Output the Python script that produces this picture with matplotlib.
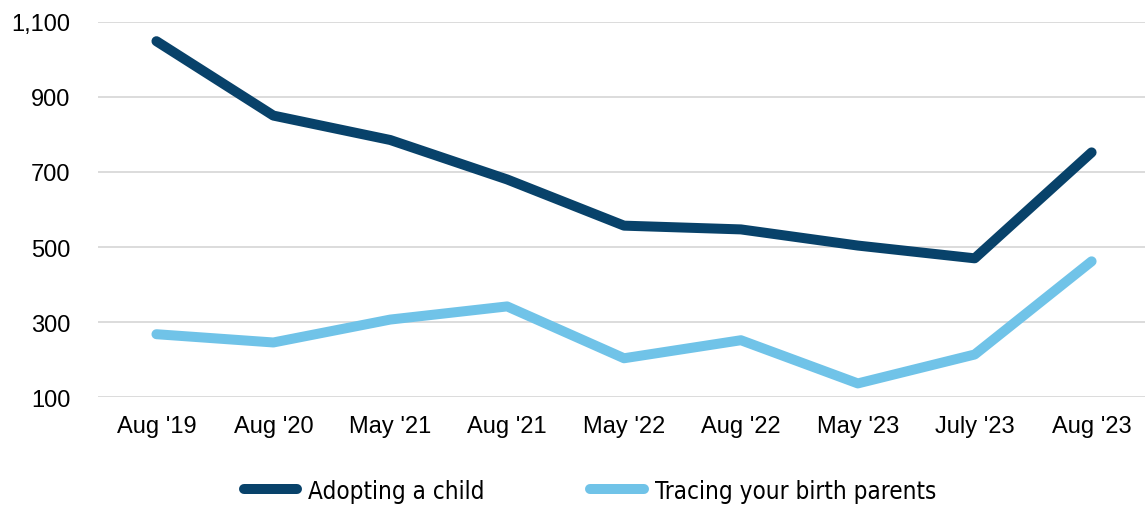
import matplotlib.pyplot as plt
from matplotlib.font_manager import FontProperties

periodos = ["Aug '19", "Aug '20", "May '21", "Aug '21", "May '22", "Aug '22", "May '23", "July '23", "Aug '23"]
adocao = [1048, 850, 785, 680, 557, 547, 504, 470, 752]
origem = [268, 246, 307, 342, 204, 252, 137, 214, 462]

plt.rcParams['font.family'] = ['Liberation Sans', 'DejaVu Sans']

fig = plt.figure(figsize=(11.45, 5.06), dpi=100)
ax = fig.add_axes([0.0856, 0.2128, 0.9188, 0.7424])

x = list(range(len(periodos)))
ax.plot(x, adocao, color='#08426A', linewidth=7.2, solid_capstyle='round', solid_joinstyle='round', label='Adopting a child')
ax.plot(x, origem, color='#70C3E8', linewidth=7.2, solid_capstyle='round', solid_joinstyle='round', label='Tracing your birth parents')

ax.set_xlim(-0.5, len(periodos) - 0.5)
ax.set_ylim(100, 1100)
ax.set_yticks([100, 300, 500, 700, 900, 1100])
ax.set_yticklabels(['100', '300', '500', '700', '900', '1,100'])
ax.set_xticks(x)
ax.set_xticklabels(periodos)
ax.tick_params(axis='both', length=0, labelsize=17, colors='black')
ax.tick_params(axis='y', pad=20)
ax.tick_params(axis='x', pad=13)
ax.grid(axis='y', color='#D9D9D9', linewidth=1.3)
ax.set_axisbelow(True)
for s in ax.spines.values():
    s.set_visible(False)

fp = FontProperties(family='DejaVu Sans', stretch='condensed', size=17.4)
leg = fig.legend(loc='center', bbox_to_anchor=(0.515, 0.028), ncol=2, frameon=False,
                 prop=fp, handlelength=2.2, columnspacing=4.4, handletextpad=0.45)

fig.savefig('out.png', dpi=100)
